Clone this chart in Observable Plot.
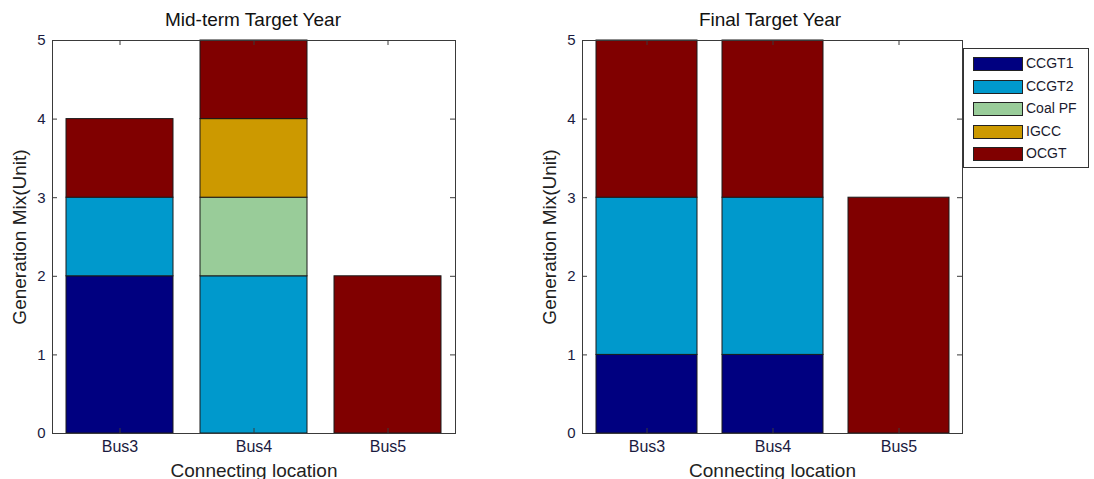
<!DOCTYPE html>
<html>
<head>
<meta charset="utf-8">
<script src="https://cdn.jsdelivr.net/npm/d3@7"></script>
<script src="https://cdn.jsdelivr.net/npm/@observablehq/plot@0.6"></script>
<style>
  html, body { margin: 0; padding: 0; background: #fff; }
  #wrap { position: relative; width: 1094px; height: 479px; font-family: "Liberation Sans", Arial, sans-serif; }
  .panel { position: absolute; top: 0; }
  .title { position: absolute; top: 9px; font-size: 19px; color: #111; text-align: center; white-space: nowrap; }
  #legend { position: absolute; left: 963px; top: 48px; width: 126px; height: 120px; border: 1px solid #333; background: #fff; box-sizing: border-box; }
  .item { position: absolute; left: 9px; height: 14px; }
  .sw { position: absolute; left: 0; top: 0; width: 48px; height: 12px; border: 1px solid #222; }
  .lab { position: absolute; left: 53px; top: -2px; font-size: 14px; color: #1a1a2e; white-space: nowrap; }
</style>
</head>
<body>
<div id="wrap"></div>
<script>
// Categories and series
const buses = ["Bus3", "Bus4", "Bus5"];
const techs = ["CCGT1", "CCGT2", "Coal PF", "IGCC", "OCGT"];
const techColors = ["#000080", "#0099cc", "#99cc99", "#cc9900", "#800000"];

// Units per technology at each bus (order follows `buses`)
const midCCGT1 = [2, 0, 0];
const midCCGT2 = [1, 2, 0];
const midCoal  = [0, 1, 0];
const midIGCC  = [0, 1, 0];
const midOCGT  = [1, 1, 2];

const finCCGT1 = [1, 1, 0];
const finCCGT2 = [2, 2, 0];
const finCoal  = [0, 0, 0];
const finIGCC  = [0, 0, 0];
const finOCGT  = [2, 2, 3];

const yTicks = [0, 1, 2, 3, 4, 5];

function rows(series) {
  const out = [];
  buses.forEach((b, i) => {
    techs.forEach((t, k) => {
      if (series[k][i] > 0) out.push({bus: b, tech: t, units: series[k][i]});
    });
  });
  return out;
}

const midData = rows([midCCGT1, midCCGT2, midCoal, midIGCC, midOCGT]);
const finData = rows([finCCGT1, finCCGT2, finCoal, finIGCC, finOCGT]);

const H = 479, MT = 40, MB = 46;
const plotH = H - MT - MB;

function panel(data, {width, marginLeft, marginRight}) {
  const plotW = width - marginLeft - marginRight;
  return Plot.plot({
    width, height: H,
    marginTop: MT, marginBottom: MB, marginLeft, marginRight,
    style: {fontFamily: "Liberation Sans, Arial, sans-serif", background: "transparent", color: "#1a1a2e", overflow: "visible"},
    x: {domain: buses, paddingInner: 0.2, paddingOuter: 0.1, label: null},
    y: {domain: [0, 5], label: null},
    color: {domain: techs, range: techColors},
    marks: [
      Plot.barY(data, Plot.stackY({order: techs}, {
        x: "bus", y: "units", fill: "tech", stroke: "#1a1a1a", strokeWidth: 1
      })),
      Plot.frame({stroke: "#3a3a3a", strokeWidth: 1}),
      // inward y ticks on both sides
      Plot.tickY(yTicks, {y: d => d, stroke: "#3a3a3a", insetRight: plotW - 5}),
      Plot.tickY(yTicks, {y: d => d, stroke: "#3a3a3a", insetLeft: plotW - 5}),
      // inward category ticks at the top and bottom
      Plot.tickX(buses, {x: d => d, stroke: "#3a3a3a", insetBottom: plotH - 5}),
      Plot.tickX(buses, {x: d => d, stroke: "#3a3a3a", insetTop: plotH - 5}),
      Plot.axisY(yTicks, {tickSize: 0, tickPadding: 7, fontSize: 15, fill: "#1a1a40", tickFormat: d => String(d), label: null}),
      Plot.axisY({anchor: "left", ticks: [], label: "Generation Mix(Unit)", labelAnchor: "center", labelArrow: "none", labelOffset: 40, fontSize: 19, fill: "#222"}),
      Plot.axisX({tickSize: 0, tickPadding: 7, fontSize: 16, fill: "#1a1a40", label: null}),
      Plot.axisX({anchor: "bottom", ticks: [], label: "Connecting location", labelAnchor: "center", labelArrow: "none", labelOffset: 43, fontSize: 19, fill: "#222"})
    ]
  });
}

const wrap = document.getElementById("wrap");

function place(el, left) {
  el.classList.add("panel");
  el.style.left = left + "px";
  wrap.appendChild(el);
}

place(panel(midData, {width: 480, marginLeft: 52, marginRight: 25}), 0);
place(panel(finData, {width: 460, marginLeft: 62, marginRight: 18}), 520);

function title(text, center) {
  const d = document.createElement("div");
  d.className = "title";
  d.textContent = text;
  d.style.left = (center - 150) + "px";
  d.style.width = "300px";
  wrap.appendChild(d);
}
title("Mid-term Target Year", 253);
title("Final Target Year", 770);

// Legend
const legend = document.createElement("div");
legend.id = "legend";
techs.forEach((t, i) => {
  const item = document.createElement("div");
  item.className = "item";
  item.style.top = (8 + i * 22.5) + "px";
  const sw = document.createElement("div");
  sw.className = "sw";
  sw.style.background = techColors[i];
  const lab = document.createElement("div");
  lab.className = "lab";
  lab.textContent = t;
  item.appendChild(sw);
  item.appendChild(lab);
  legend.appendChild(item);
});
wrap.appendChild(legend);
</script>
</body>
</html>
